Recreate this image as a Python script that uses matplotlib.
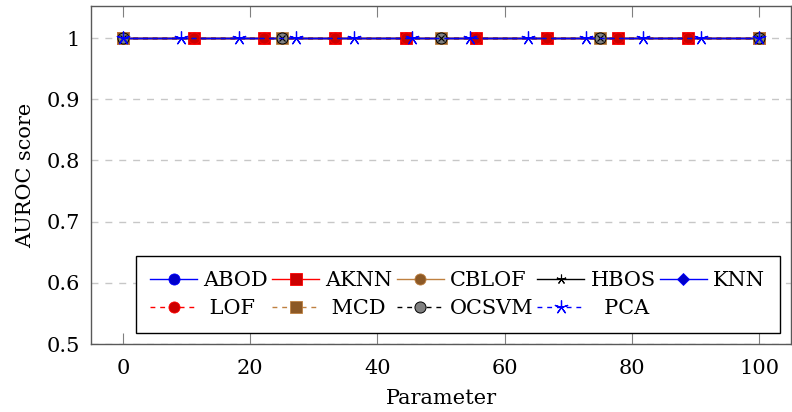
import matplotlib
matplotlib.use("Agg")
import matplotlib.pyplot as plt

plt.rcParams['font.family'] = ['DejaVu Serif']

# Parameter grids for each detector
x_abod = [0, 100]
x_aknn = [0, 11.11, 22.22, 33.33, 44.44, 55.56, 66.67, 77.78, 88.89, 100]
x_cblof = [0, 25, 50, 75, 100]
x_hbos = [0, 100]
x_knn = [0, 100]
x_lof = [0, 11.11, 22.22, 33.33, 44.44, 55.56, 66.67, 77.78, 88.89, 100]
x_mcd = [0, 25, 50, 75, 100]
x_ocsvm = [0, 25, 50, 75, 100]
x_pca = [0, 9.09, 18.18, 27.27, 36.36, 45.45, 54.55, 63.64, 72.73, 81.82, 90.91, 100]

# AUROC scores
y_abod = [1, 1]
y_aknn = [1, 1, 1, 1, 1, 1, 1, 1, 1, 1]
y_cblof = [1, 1, 1, 1, 1]
y_hbos = [1, 1]
y_knn = [1, 1]
y_lof = [1, 1, 1, 1, 1, 1, 1, 1, 1, 1]
y_mcd = [1, 1, 1, 1, 1]
y_ocsvm = [1, 1, 1, 1, 1]
y_pca = [1, 1, 1, 1, 1, 1, 1, 1, 1, 1, 1, 1]

y_ticks = [0.5, 0.6, 0.7, 0.8, 0.9, 1.0]
y_ticklabels = ["0.5", "0.6", "0.7", "0.8", "0.9", "1"]
x_ticks = [0, 20, 40, 60, 80, 100]

fig = plt.figure(figsize=(7.92, 4.12), dpi=100)
ax = fig.add_axes([0.115, 0.165, 0.8835, 0.82])

blue = (0, 0, 1)
blue_fill = (0, 0, 0.8)
red = (1, 0, 0)
red_fill = (0.8, 0, 0)
brown = (0.75, 0.5, 0.25)
brown_fill = (0.55, 0.35, 0.15)
gray_fill = (0.5, 0.5, 0.5)
dashed = (0, (3.5, 3.5))

ms = 8
handles = {}


def add(xs, ys, name, **kw):
    h, = ax.plot(xs, ys, lw=1.0, label=name, **kw)
    handles[name] = h


add(x_abod, y_abod, "ABOD", color=blue, ls='-', marker='o', mfc=blue_fill, mec=blue, ms=ms, mew=0.6)
add(x_aknn, y_aknn, "AKNN", color=red, ls='-', marker='s', mfc=red_fill, mec=red, ms=ms, mew=0.6)
add(x_cblof, y_cblof, "CBLOF", color=brown, ls='-', marker='o', mfc=brown_fill, mec=brown, ms=ms, mew=0.6)
add(x_hbos, y_hbos, "HBOS", color='black', ls='-', marker=(5, 2, 0), mec='black', ms=7, mew=0.8)
add(x_knn, y_knn, "KNN", color=blue, ls='-', marker='D', mfc=blue_fill, mec=blue, ms=6.5, mew=0.6)
add(x_lof, y_lof, " LOF", color=red, ls=dashed, marker='o', mfc=red_fill, mec=red, ms=ms, mew=0.6)
add(x_mcd, y_mcd, " MCD", color=brown, ls=dashed, marker='s', mfc=brown_fill, mec=brown, ms=ms, mew=0.6)
add(x_ocsvm, y_ocsvm, "OCSVM", color='black', ls=dashed, marker='o', mfc=gray_fill, mec='black', ms=ms, mew=0.7)
# cross inside the OCSVM circles
ax.plot(x_ocsvm, y_ocsvm, ls='none', marker='x', color='black', ms=ms * 0.55, mew=0.8)
add(x_pca, y_pca, "  PCA", color=blue, ls=dashed, marker=(5, 2, 0), mec=blue, ms=10, mew=0.9)

ax.set_xlim(-5, 105)
ax.set_ylim(0.5, 1.052)
ax.set_xticks(x_ticks)
ax.set_yticks(y_ticks)
ax.set_yticklabels(y_ticklabels)
ax.tick_params(axis='x', direction='in', length=8, color=(0.5, 0.5, 0.5),
               labelsize=15, top=True, pad=11)
ax.tick_params(axis='y', direction='in', length=0, labelsize=15, pad=8)
ax.yaxis.grid(True, linestyle=(0, (5, 5)), color=(0.78, 0.78, 0.78), lw=1.0)
ax.set_axisbelow(True)
for s in ax.spines.values():
    s.set_color((0.35, 0.35, 0.35))
    s.set_linewidth(1.0)

ax.set_xlabel("Parameter", fontsize=15, labelpad=8)
ax.set_ylabel("AUROC score", fontsize=15, labelpad=8)

# Row-major legend: five entries on top, four below
order = ["ABOD", " LOF", "AKNN", " MCD", "CBLOF", "OCSVM", "HBOS", "  PCA", "KNN"]
leg = ax.legend(handles=[handles[k] for k in order], ncol=5, loc='lower right',
                bbox_to_anchor=(0.984, 0.033), fontsize=15, frameon=True,
                fancybox=False, edgecolor='black', framealpha=1,
                handlelength=2.25, handletextpad=0.3, columnspacing=0.2,
                borderpad=0.7, labelspacing=0.45, borderaxespad=0)
leg.get_frame().set_linewidth(1.0)

fig.savefig("out.png", dpi=100)
